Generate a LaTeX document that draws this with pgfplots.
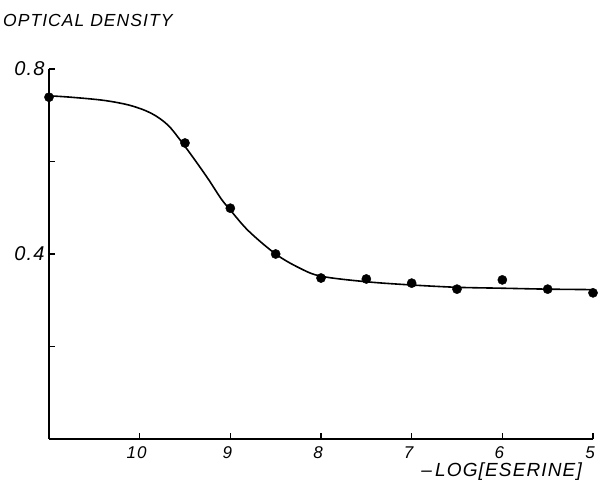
\documentclass[border=0pt]{standalone}
\usepackage{fontspec}
\setmainfont{Liberation Sans}
\usepackage{pgfplots}
\pgfplotsset{compat=1.18}

\newfontfamily\lettering[LetterSpace=6]{Liberation Sans}

\begin{document}
\begin{tikzpicture}
  \begin{axis}[
    scale only axis,
    width=544pt,
    height=370pt,
    xmin=5, xmax=11,
    ymin=0, ymax=0.8,
    x dir=reverse,
    axis lines=left,
    axis line style={-, line width=1.2pt},
    xtick={5,6,7,8,9,10},
    ytick={0.2,0.4,0.6,0.8},
    yticklabels={,0.4,,0.8},
    tick align=inside,
    major tick length=6pt,
    tick style={line width=1.2pt, black},
    /pgf/number format/assume math mode=true,
    xticklabel style={font=\fontsize{17}{17}\selectfont\lettering\itshape, xshift=-3pt, yshift=-4pt},
    yticklabel style={font=\fontsize{20}{20}\selectfont\lettering\itshape, xshift=-1pt},
    clip=false,
  ]
    % fitted curve
    \addplot[black, line width=1.6pt, smooth, tension=0.55] coordinates {
      (11.0,0.742) (10.76,0.739) (10.39,0.732) (10.1,0.721) (9.87,0.704)
      (9.69,0.679) (9.54,0.643) (9.39,0.603) (9.24,0.561) (9.1,0.519)
      (9.0,0.495) (8.8,0.450) (8.5,0.400) (8.24,0.370) (8.0,0.352)
      (7.5,0.340) (7.0,0.333) (6.5,0.328) (6.0,0.326) (5.5,0.324) (5.0,0.323)
    };
    % measured points
    \addplot[only marks, mark=*, mark size=4.6pt, black] coordinates {
      (11.0,0.739) (9.5,0.640) (9.0,0.499) (8.5,0.400) (8.0,0.348)
      (7.5,0.346) (7.0,0.337) (6.5,0.324) (6.0,0.344) (5.5,0.324) (5.0,0.316)
    };
  \end{axis}
  \node[anchor=base west, font=\fontsize{17.5}{17.5}\selectfont\lettering\itshape, inner sep=0pt]
    at ([xshift=-46pt, yshift=42pt]current axis.north west) {OPTICAL DENSITY};
  \node[anchor=base east, font=\fontsize{19}{19}\selectfont\lettering\itshape, inner sep=0pt]
    at ([xshift=-11pt, yshift=-38pt]current axis.south east) {–\,LOG[ESERINE]};
  \path ([xshift=-49pt, yshift=-54pt]current axis.south west) rectangle
        ([xshift=10pt, yshift=69pt]current axis.north east);
\end{tikzpicture}
\end{document}
